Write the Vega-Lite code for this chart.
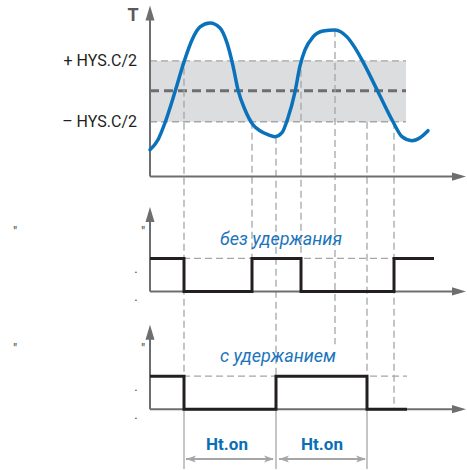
{
  "$schema": "https://vega.github.io/schema/vega-lite/v6.json",
  "width": 467,
  "height": 470,
  "padding": 0,
  "autosize": {"type": "fit", "contains": "padding"},
  "background": "white",
  "config": {"view": {"stroke": null}},
  "datasets": {
    "band": [{"x1": 150, "x2": 406, "y1": 61, "y2": 122}],
    "hdash": [
      {"x1": 150, "x2": 406, "y": 61},
      {"x1": 150, "x2": 406, "y": 122},
      {"x1": 150, "x2": 394, "y": 259},
      {"x1": 150, "x2": 407, "y": 377}
    ],
    "center": [{"x1": 150, "x2": 406, "y": 91}],
    "vdash": [
      {"x": 184, "y1": 68, "y2": 410},
      {"x": 252, "y1": 122, "y2": 292},
      {"x": 276, "y1": 137, "y2": 410},
      {"x": 301, "y1": 70, "y2": 292},
      {"x": 335, "y1": 30, "y2": 345},
      {"x": 367, "y1": 122, "y2": 410},
      {"x": 394, "y1": 122, "y2": 410}
    ],
    "vsolid": [
      {"x": 184, "y1": 410, "y2": 470},
      {"x": 276, "y1": 410, "y2": 470},
      {"x": 367, "y1": 410, "y2": 470}
    ],
    "axes": [
      {"x1": 150, "x2": 150, "y1": 18, "y2": 177},
      {"x1": 150, "x2": 456, "y1": 177, "y2": 177},
      {"x1": 150, "x2": 150, "y1": 220, "y2": 292},
      {"x1": 150, "x2": 456, "y1": 292, "y2": 292},
      {"x1": 150, "x2": 150, "y1": 338, "y2": 410},
      {"x1": 150, "x2": 456, "y1": 410, "y2": 410}
    ],
    "arrowUp": [{"x": 150, "y": 13}, {"x": 150, "y": 215}, {"x": 150, "y": 333}],
    "arrowRight": [{"x": 459, "y": 177}, {"x": 459, "y": 292}, {"x": 459, "y": 410}],
    "curve": [
      {"x": 150, "y": 150}, {"x": 158, "y": 140}, {"x": 165, "y": 123}, {"x": 175, "y": 92},
      {"x": 184, "y": 62}, {"x": 192, "y": 40}, {"x": 200, "y": 27}, {"x": 210, "y": 23},
      {"x": 220, "y": 28}, {"x": 227, "y": 43}, {"x": 233, "y": 66}, {"x": 238, "y": 90},
      {"x": 245, "y": 110}, {"x": 253, "y": 125}, {"x": 260, "y": 131}, {"x": 268, "y": 135},
      {"x": 275, "y": 137}, {"x": 282, "y": 133}, {"x": 288, "y": 118}, {"x": 295, "y": 92},
      {"x": 300, "y": 66}, {"x": 305, "y": 50}, {"x": 313, "y": 37}, {"x": 323, "y": 31},
      {"x": 335, "y": 30}, {"x": 347, "y": 37}, {"x": 355, "y": 48}, {"x": 363, "y": 62},
      {"x": 378, "y": 92}, {"x": 393, "y": 122}, {"x": 402, "y": 137}, {"x": 412, "y": 141},
      {"x": 420, "y": 138}, {"x": 428, "y": 131}
    ],
    "relay": [
      {"r": "без удержания", "x": 150, "y": 259},
      {"r": "без удержания", "x": 184, "y": 292},
      {"r": "без удержания", "x": 252, "y": 259},
      {"r": "без удержания", "x": 301, "y": 292},
      {"r": "без удержания", "x": 394, "y": 259},
      {"r": "без удержания", "x": 434, "y": 259},
      {"r": "с удержанием", "x": 150, "y": 377},
      {"r": "с удержанием", "x": 184, "y": 410},
      {"r": "с удержанием", "x": 276, "y": 377},
      {"r": "с удержанием", "x": 367, "y": 410},
      {"r": "с удержанием", "x": 407, "y": 410}
    ],
    "htLines": [{"x1": 186, "x2": 273, "y": 460}, {"x1": 279, "x2": 365, "y": 460}],
    "htLeft": [{"x": 191, "y": 460}, {"x": 284, "y": 460}],
    "htRight": [{"x": 269, "y": 460}, {"x": 361, "y": 460}],
    "hysLabels": [
      {"x": 137, "y": 61, "t": "+ HYS.C/2"},
      {"x": 137, "y": 122, "t": "– HYS.C/2"}
    ],
    "tLabel": [{"x": 133, "y": 16, "t": "T"}],
    "modeLabels": [
      {"x": 281, "y": 241, "t": "без удержания"},
      {"x": 278, "y": 358, "t": "с удержанием"}
    ],
    "htLabels": [{"x": 227, "y": 446, "t": "Ht.on"}, {"x": 322, "y": 446, "t": "Ht.on"}],
    "marks": [
      {"x": 15, "y": 232, "t": "\""}, {"x": 143, "y": 232, "t": "\""},
      {"x": 136, "y": 270, "t": "."}, {"x": 136, "y": 298, "t": "."},
      {"x": 15, "y": 350, "t": "\""}, {"x": 143, "y": 350, "t": "\""},
      {"x": 136, "y": 388, "t": "."}, {"x": 136, "y": 416, "t": "."}
    ]
  },
  "layer": [
    {
      "data": {"name": "band"},
      "mark": {"type": "rect", "color": "#dcdddf"},
      "encoding": {
        "x": {"field": "x1", "type": "quantitative", "scale": {"domain": [0, 467], "nice": false, "zero": false}, "axis": null},
        "x2": {"field": "x2"},
        "y": {"field": "y1", "type": "quantitative", "scale": {"domain": [0, 470], "nice": false, "zero": false, "reverse": true}, "axis": null},
        "y2": {"field": "y2"}
      }
    },
    {
      "data": {"name": "hdash"},
      "mark": {"type": "rule", "color": "#a4a6a8", "strokeWidth": 1.3, "strokeDash": [7, 4]},
      "encoding": {
        "x": {"field": "x1", "type": "quantitative"},
        "x2": {"field": "x2"},
        "y": {"field": "y", "type": "quantitative"}
      }
    },
    {
      "data": {"name": "center"},
      "mark": {"type": "rule", "color": "#6d6e70", "strokeWidth": 3, "strokeDash": [9, 5]},
      "encoding": {
        "x": {"field": "x1", "type": "quantitative"},
        "x2": {"field": "x2"},
        "y": {"field": "y", "type": "quantitative"}
      }
    },
    {
      "data": {"name": "vdash"},
      "mark": {"type": "rule", "color": "#a4a6a8", "strokeWidth": 1.3, "strokeDash": [7, 4]},
      "encoding": {
        "x": {"field": "x", "type": "quantitative"},
        "y": {"field": "y1", "type": "quantitative"},
        "y2": {"field": "y2"}
      }
    },
    {
      "data": {"name": "vsolid"},
      "mark": {"type": "rule", "color": "#a4a6a8", "strokeWidth": 1.3},
      "encoding": {
        "x": {"field": "x", "type": "quantitative"},
        "y": {"field": "y1", "type": "quantitative"},
        "y2": {"field": "y2"}
      }
    },
    {
      "data": {"name": "axes"},
      "mark": {"type": "rule", "color": "#6d6e70", "strokeWidth": 2},
      "encoding": {
        "x": {"field": "x1", "type": "quantitative"},
        "x2": {"field": "x2"},
        "y": {"field": "y1", "type": "quantitative"},
        "y2": {"field": "y2"}
      }
    },
    {
      "data": {"name": "arrowUp"},
      "mark": {"type": "point", "shape": "M0,-1L0.6,1L-0.6,1Z", "filled": true, "color": "#6d6e70", "opacity": 1, "size": 225},
      "encoding": {
        "x": {"field": "x", "type": "quantitative"},
        "y": {"field": "y", "type": "quantitative"}
      }
    },
    {
      "data": {"name": "arrowRight"},
      "mark": {"type": "point", "shape": "M1,0L-1,0.6L-1,-0.6Z", "filled": true, "color": "#6d6e70", "opacity": 1, "size": 196},
      "encoding": {
        "x": {"field": "x", "type": "quantitative"},
        "y": {"field": "y", "type": "quantitative"}
      }
    },
    {
      "data": {"name": "curve"},
      "mark": {"type": "line", "color": "#0a72ba", "strokeWidth": 3.5, "interpolate": "monotone", "strokeCap": "round"},
      "encoding": {
        "x": {"field": "x", "type": "quantitative"},
        "y": {"field": "y", "type": "quantitative"}
      }
    },
    {
      "data": {"name": "relay"},
      "mark": {"type": "line", "color": "#231f20", "strokeWidth": 3, "interpolate": "step-after", "strokeJoin": "miter"},
      "encoding": {
        "x": {"field": "x", "type": "quantitative"},
        "y": {"field": "y", "type": "quantitative"},
        "detail": {"field": "r"}
      }
    },
    {
      "data": {"name": "htLines"},
      "mark": {"type": "rule", "color": "#a4a6a8", "strokeWidth": 2},
      "encoding": {
        "x": {"field": "x1", "type": "quantitative"},
        "x2": {"field": "x2"},
        "y": {"field": "y", "type": "quantitative"}
      }
    },
    {
      "data": {"name": "htLeft"},
      "mark": {"type": "point", "shape": "M-1,0L1,-0.7L0.5,0L1,0.7Z", "filled": true, "color": "#a4a6a8", "opacity": 1, "size": 100},
      "encoding": {
        "x": {"field": "x", "type": "quantitative"},
        "y": {"field": "y", "type": "quantitative"}
      }
    },
    {
      "data": {"name": "htRight"},
      "mark": {"type": "point", "shape": "M1,0L-1,-0.7L-0.5,0L-1,0.7Z", "filled": true, "color": "#a4a6a8", "opacity": 1, "size": 100},
      "encoding": {
        "x": {"field": "x", "type": "quantitative"},
        "y": {"field": "y", "type": "quantitative"}
      }
    },
    {
      "data": {"name": "hysLabels"},
      "mark": {"type": "text", "align": "right", "baseline": "middle", "font": "Roboto", "fontSize": 16, "color": "#231f20"},
      "encoding": {
        "x": {"field": "x", "type": "quantitative"},
        "y": {"field": "y", "type": "quantitative"},
        "text": {"field": "t"}
      }
    },
    {
      "data": {"name": "tLabel"},
      "mark": {"type": "text", "align": "center", "baseline": "middle", "font": "Roboto", "fontWeight": "bold", "fontSize": 18, "color": "#58595b"},
      "encoding": {
        "x": {"field": "x", "type": "quantitative"},
        "y": {"field": "y", "type": "quantitative"},
        "text": {"field": "t"}
      }
    },
    {
      "data": {"name": "modeLabels"},
      "mark": {"type": "text", "align": "center", "baseline": "middle", "font": "Roboto", "fontStyle": "italic", "fontSize": 18, "color": "#1b75bc"},
      "encoding": {
        "x": {"field": "x", "type": "quantitative"},
        "y": {"field": "y", "type": "quantitative"},
        "text": {"field": "t"}
      }
    },
    {
      "data": {"name": "htLabels"},
      "mark": {"type": "text", "align": "center", "baseline": "middle", "font": "Roboto", "fontWeight": "bold", "fontSize": 17, "color": "#0a6fb7"},
      "encoding": {
        "x": {"field": "x", "type": "quantitative"},
        "y": {"field": "y", "type": "quantitative"},
        "text": {"field": "t"}
      }
    },
    {
      "data": {"name": "marks"},
      "mark": {"type": "text", "align": "center", "baseline": "middle", "font": "Roboto", "fontSize": 13, "color": "#444444"},
      "encoding": {
        "x": {"field": "x", "type": "quantitative"},
        "y": {"field": "y", "type": "quantitative"},
        "text": {"field": "t"}
      }
    }
  ]
}
